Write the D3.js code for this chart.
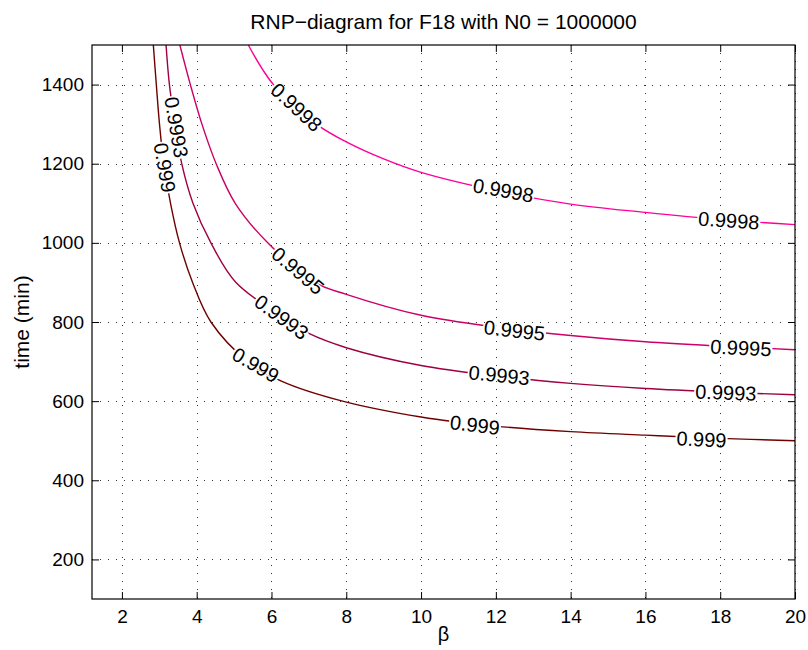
<!DOCTYPE html>
<html>
<head>
<meta charset="utf-8">
<script src="https://cdn.jsdelivr.net/npm/d3@7"></script>
<style>
  body { margin: 0; background: #fff; }
  text { font-family: "Liberation Sans", Arial, Helvetica, sans-serif; }
</style>
</head>
<body>
<script>
const levels = ['0.999', '0.9993', '0.9995', '0.9998'];
const levelColors = ['#6e0000', '#9e0040', '#cc0066', '#ff0099'];

const curve999 = [
  [2.84, 1500], [2.92, 1400], [3.005, 1300], [3.12, 1200], [3.30, 1100],
  [3.54, 1000], [3.89, 900], [4.38, 800], [5.37, 700], [6.28, 650],
  [7.9, 600], [10, 560], [12, 537], [14, 523], [16, 514], [18, 506], [20, 500]
];
const curve9993 = [
  [3.18, 1500], [3.27, 1400], [3.42, 1300], [3.60, 1200], [3.90, 1100],
  [4.38, 1000], [5.05, 900], [6.5, 800], [7, 771], [8, 735], [10, 690],
  [12, 664], [14, 645], [16, 632], [18, 623], [20, 616]
];
const curve9995 = [
  [3.55, 1500], [3.83, 1400], [4.14, 1300], [4.52, 1200], [5.03, 1100],
  [5.9, 1000], [7.15, 900], [8, 870], [10, 817], [12, 787], [14, 766],
  [16, 750], [18, 739], [20, 730]
];
const curve9998 = [
  [5.38, 1500], [6.05, 1400], [7.2, 1300], [8, 1255], [9, 1212], [10, 1178],
  [12, 1132], [14, 1098], [16, 1077], [18, 1059], [20, 1046]
];
const curves = [curve999, curve9993, curve9995, curve9998];

// where the inline labels sit on each curve
const labels999 = [[3.15, 1190], [5.58, 692], [11.44, 540], [17.5, 504]];
const labels9993 = [[3.46, 1292], [6.27, 813], [12.09, 666], [18.15, 622]];
const labels9995 = [[6.71, 930], [12.5, 779], [18.55, 735]];
const labels9998 = [[6.67, 1343], [12.2, 1133], [18.23, 1057]];
const labelSets = [labels999, labels9993, labels9995, labels9998];

const xTicks = [2, 4, 6, 8, 10, 12, 14, 16, 18, 20];
const yTicks = [200, 400, 600, 800, 1000, 1200, 1400];

const titleText = 'RNP\u2212diagram for F18 with N0 = 1000000';
const xLabel = '\u03b2';
const yLabel = 'time (min)';

const width = 808;
const height = 650;
const margin = { top: 45, right: 13, bottom: 51, left: 92 };
const innerW = width - margin.left - margin.right;
const innerH = height - margin.top - margin.bottom;

const svg = d3.select('body').append('svg')
  .attr('width', width)
  .attr('height', height);

const g = svg.append('g')
  .attr('transform', `translate(${margin.left},${margin.top})`);

const x = d3.scaleLinear().domain([1.2, 20]).range([0, innerW]);
const y = d3.scaleLinear().domain([100, 1500]).range([innerH, 0]);

// dotted grid
const grid = g.append('g').attr('stroke', '#333').attr('stroke-width', 1)
  .attr('stroke-dasharray', '1,7');
grid.selectAll('line.gx').data(xTicks).join('line')
  .attr('class', 'gx')
  .attr('x1', (d) => Math.round(x(d)) + 0.5).attr('x2', (d) => Math.round(x(d)) + 0.5)
  .attr('y1', 0).attr('y2', innerH);
grid.selectAll('line.gy').data(yTicks).join('line')
  .attr('class', 'gy')
  .attr('y1', (d) => Math.round(y(d)) + 0.5).attr('y2', (d) => Math.round(y(d)) + 0.5)
  .attr('x1', 0).attr('x2', innerW);

// contour lines
const line = d3.line()
  .x((d) => x(d[0]))
  .y((d) => y(d[1]))
  .curve(d3.curveCatmullRom.alpha(0.5));

const clip = svg.append('defs').append('clipPath').attr('id', 'plotclip');
clip.append('rect').attr('width', innerW).attr('height', innerH);

const plot = g.append('g').attr('clip-path', 'url(#plotclip)');

curves.forEach((c, i) => {
  plot.append('path')
    .datum(c)
    .attr('fill', 'none')
    .attr('stroke', levelColors[i])
    .attr('stroke-width', 1.4)
    .attr('d', line);
});

// nearest point + direction on a curve (pixel space), for label placement
const nearestOnCurve = (c, p) => {
  const pts = c.map((d) => [x(d[0]), y(d[1])]);
  const px = x(p[0]);
  const py = y(p[1]);
  let best = null;
  for (let i = 0; i < pts.length - 1; i++) {
    const [ax, ay] = pts[i];
    const [bx, by] = pts[i + 1];
    const dx = bx - ax;
    const dy = by - ay;
    const len2 = dx * dx + dy * dy;
    let t = ((px - ax) * dx + (py - ay) * dy) / len2;
    t = Math.max(0, Math.min(1, t));
    const qx = ax + t * dx;
    const qy = ay + t * dy;
    const dist = (qx - px) ** 2 + (qy - py) ** 2;
    if (!best || dist < best.dist) {
      let ang = Math.atan2(dy, dx) * 180 / Math.PI;
      if (ang > 90) ang -= 180;
      if (ang < -90) ang += 180;
      best = { x: px, y: py, ang, dist };
    }
  }
  return best;
};

const labelLayer = g.append('g');
labelSets.forEach((set, i) => {
  set.forEach((p) => {
    const pos = nearestOnCurve(curves[i], p);
    const lg = labelLayer.append('g')
      .attr('transform', `translate(${pos.x},${pos.y}) rotate(${pos.ang})`);
    const txt = lg.append('text')
      .attr('text-anchor', 'middle')
      .attr('dy', '0.36em')
      .attr('font-size', 20)
      .attr('fill', '#000')
      .text(levels[i]);
    const bb = txt.node().getBBox();
    lg.insert('rect', 'text')
      .attr('x', bb.x - 1)
      .attr('y', -3)
      .attr('width', bb.width + 2)
      .attr('height', 6)
      .attr('fill', '#fff');
  });
});

// axes with inward ticks on all four sides
const tickLen = 7;
const axB = g.append('g').attr('transform', `translate(0,${innerH})`)
  .call(d3.axisBottom(x).tickValues(xTicks).tickSize(-tickLen).tickSizeOuter(0).tickPadding(11));
const axL = g.append('g')
  .call(d3.axisLeft(y).tickValues(yTicks).tickFormat(d3.format('d'))
    .tickSize(-tickLen).tickSizeOuter(0).tickPadding(8));
const axT = g.append('g')
  .call(d3.axisTop(x).tickValues(xTicks).tickSize(-tickLen).tickSizeOuter(0).tickFormat(''));
const axR = g.append('g').attr('transform', `translate(${innerW},0)`)
  .call(d3.axisRight(y).tickValues(yTicks).tickSize(-tickLen).tickSizeOuter(0).tickFormat(''));

[axB, axL, axT, axR].forEach((a) => {
  a.select('.domain').remove();
  a.selectAll('.tick line').attr('stroke', '#000');
  a.selectAll('.tick text')
    .attr('font-size', 19)
    .attr('fill', '#000')
    .style('font-family', '"Liberation Sans", Arial, sans-serif');
});

g.append('rect')
  .attr('x', 0).attr('y', 0)
  .attr('width', innerW).attr('height', innerH)
  .attr('fill', 'none')
  .attr('stroke', '#000')
  .attr('stroke-width', 1.2);

// titles
svg.append('text')
  .attr('x', margin.left + innerW / 2)
  .attr('y', 29)
  .attr('text-anchor', 'middle')
  .attr('font-size', 21)
  .text(titleText);

svg.append('text')
  .attr('x', margin.left + innerW / 2)
  .attr('y', 641)
  .attr('text-anchor', 'middle')
  .attr('font-size', 20)
  .text(xLabel);

svg.append('text')
  .attr('transform', `translate(29,${margin.top + innerH / 2}) rotate(-90)`)
  .attr('text-anchor', 'middle')
  .attr('font-size', 21)
  .text(yLabel);
</script>
</body>
</html>
